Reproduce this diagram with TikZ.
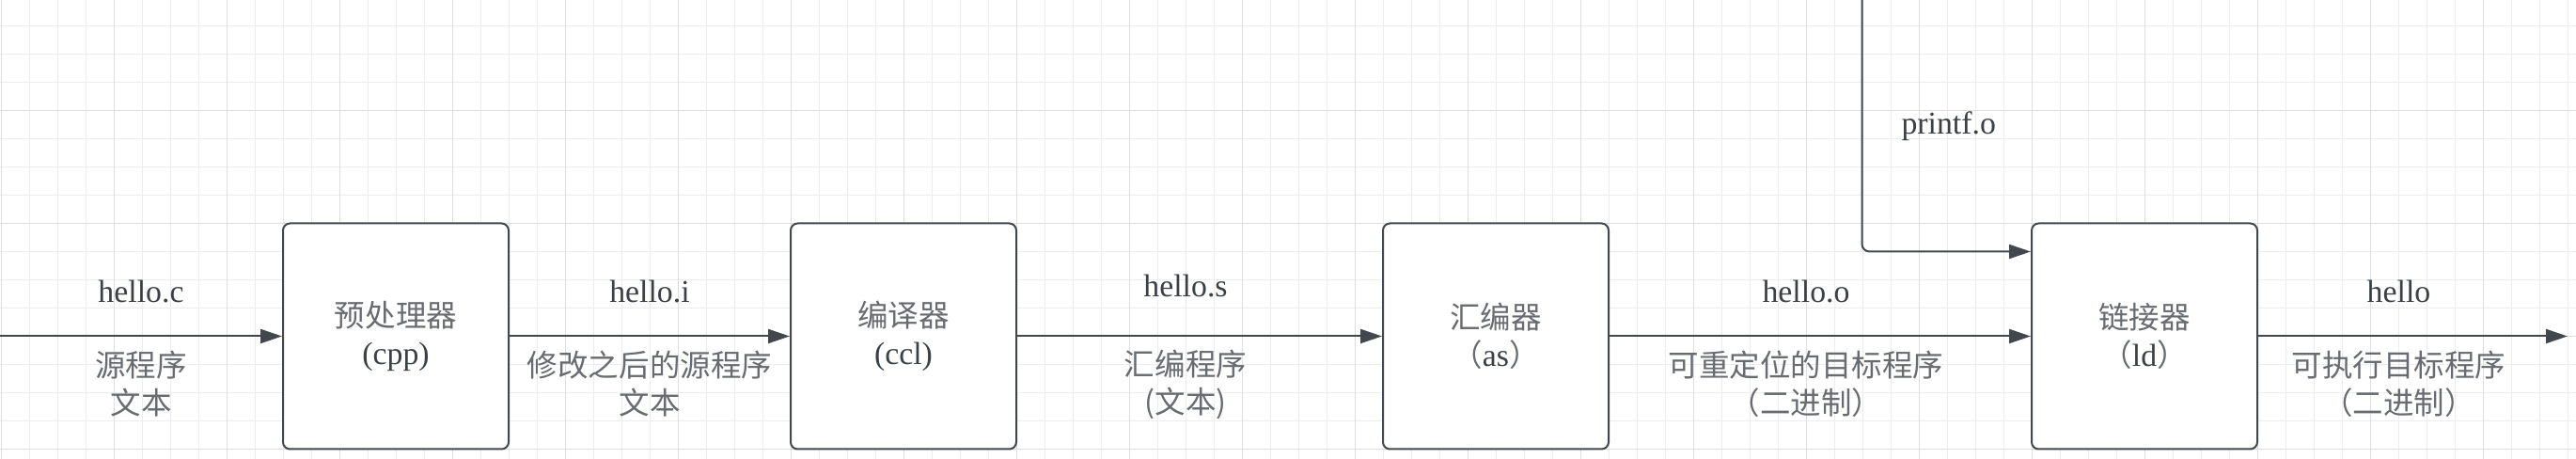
\documentclass[tikz,border=0pt]{standalone}
\usepackage{fontspec}
\setmainfont{Liberation Serif}[Scale=1.04]
\newfontfamily\cjk{Noto Sans CJK SC}
\usetikzlibrary{arrows.meta,positioning}
\definecolor{linegrey}{HTML}{42474E}
\definecolor{textdark}{HTML}{3B4047}
\definecolor{textcjk}{HTML}{686C71}
\definecolor{gridminor}{HTML}{EDEDED}
\definecolor{gridmajor}{HTML}{DEDEDE}
\newcommand{\zh}[1]{{\cjk\color{textcjk}#1}}

\begin{document}
\begin{tikzpicture}[node distance=10.8cm, text=textdark,
                    font=\fontsize{18.5}{22.8}\selectfont,
                    proc/.style={draw=linegrey,line width=0.04cm,fill=white,rounded corners=0.15cm,
                                 minimum width=4.8cm,minimum height=4.8cm,align=center,inner sep=0pt},
                    flow/.style={draw=linegrey,line width=0.04cm,-{Triangle[length=0.46cm,width=0.3cm]}},
                    fname/.style={yshift=0.95cm,inner sep=0pt},
                    fdesc/.style={yshift=-1.02cm,inner sep=0pt,align=center}]
\useasboundingbox (0,0) rectangle (54.8,9.76);
\fill[white] (0,0) rectangle (54.8,9.76);

\foreach \i in {0,...,91} \draw[gridminor,line width=0.02cm] ({0.026+0.6*\i},0) -- ++(0,9.76);
\foreach \j in {0,...,15} \draw[gridminor,line width=0.02cm] (0,{9.214-0.6*\j}) -- ++(54.8,0);
\foreach \i in {0,...,22} \draw[gridmajor,line width=0.02cm] ({0.026+2.4*\i},0) -- ++(0,9.76);
\foreach \j in {0,...,3} \draw[gridmajor,line width=0.02cm] (0,{7.414-2.4*\j}) -- ++(54.8,0);

\node[proc] (cpp) at (8.42,2.61) {\zh{预处理器}\\(cpp)};
\node[proc] (ccl) [right of=cpp] {\zh{编译器}\\(ccl)};
\node[proc] (as) [right of=ccl, node distance=12.6cm] {\zh{汇编器}\\\zh{（}as\zh{）}};
\node[proc] (ld) [right of=as, node distance=13.8cm] {\zh{链接器}\\\zh{（}ld\zh{）}};
\coordinate[left of=cpp, node distance=8.42cm] (src);
\coordinate[right of=ld, node distance=9cm] (exe);
\coordinate (lib) at (39.61,9.76);

\path
    (src) edge[flow] node[fname] {hello.c} node[fdesc] {\zh{源程序}\\\zh{文本}} (cpp)
    (cpp) edge[flow] node[fname] {hello.i} node[fdesc] {\zh{修改之后的源程序}\\\zh{文本}} (ccl)
    (ccl) edge[flow] node[fname,yshift=0.12cm,xshift=-0.3cm] {hello.s} node[fdesc,xshift=-0.3cm] {\zh{汇编程序}\\\zh{(文本)}} (as)
    (as) edge[flow] node[fname,xshift=-0.3cm] {hello.o} node[fdesc,xshift=-0.3cm] {\zh{可重定位的目标程序}\\\zh{（二进制）}} (ld)
    (ld) edge[flow] node[fname,xshift=-0.3cm] {hello} node[fdesc,xshift=-0.3cm] {\zh{可执行目标程序}\\\zh{（二进制）}} (exe);

\draw[flow,rounded corners=0.16cm] (lib) |- node[pos=0.25,anchor=west,xshift=0.82cm,inner sep=0pt] {printf.o} ([yshift=1.8cm]ld.west);
\end{tikzpicture}
\end{document}
